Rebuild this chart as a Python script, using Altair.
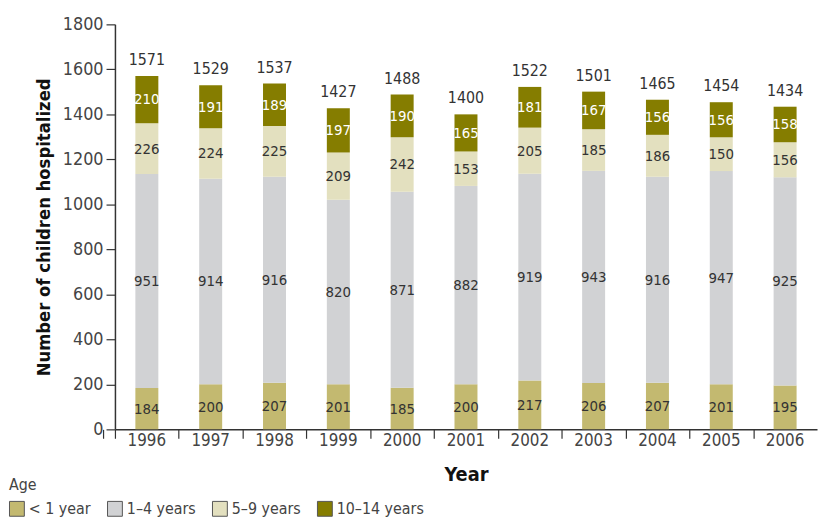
import altair as alt
import pandas as pd

years = ["1996", "1997", "1998", "1999", "2000", "2001", "2002", "2003", "2004", "2005", "2006"]
ages = ["< 1 year", "1–4 years", "5–9 years", "10–14 years"]
lt1 = [184, 200, 207, 201, 185, 200, 217, 206, 207, 201, 195]
y1_4 = [951, 914, 916, 820, 871, 882, 919, 943, 916, 947, 925]
y5_9 = [226, 224, 225, 209, 242, 153, 205, 185, 186, 150, 156]
y10_14 = [210, 191, 189, 197, 190, 165, 181, 167, 156, 156, 158]
totals = [1571, 1529, 1537, 1427, 1488, 1400, 1522, 1501, 1465, 1454, 1434]
colors = ["#c3b970", "#d1d2d4", "#e3e0bf", "#857d00"]

series = [lt1, y1_4, y5_9, y10_14]
rows = []
for ai, (age, vals) in enumerate(zip(ages, series)):
    for yr, v in zip(years, vals):
        rows.append({"year": yr, "age": age, "order": ai, "value": v})
df = pd.DataFrame(rows)
tot_df = pd.DataFrame({"year": years, "total": totals})

FONT = "DejaVu Sans Condensed, Roboto, sans-serif"
W = 709
STEP = W / len(years)
xscale = alt.Scale(paddingInner=0.64, paddingOuter=0.32)

x_labels = alt.X("year:N", title="Year", sort=years, scale=xscale,
                 axis=alt.Axis(orient="bottom", labelAngle=0, ticks=False,
                               labelFontSize=17, labelColor="#444", labelPadding=3,
                               titleFontSize=20, titleFontWeight="bold", titleColor="#111",
                               titlePadding=17, domainColor="#333", domainWidth=1.5,
                               labelFont=FONT, titleFont=FONT))
x_ticks = alt.X("year:N", title=None, sort=years, scale=xscale,
                axis=alt.Axis(orient="bottom", labels=False, domain=False,
                              tickOffset=-STEP / 2, tickExtra=True, tickSize=9,
                              tickColor="#333", tickWidth=1.2))
yscale = alt.Scale(domain=[0, 1800])

base = alt.Chart(df).transform_stack(
    stack="value", groupby=["year"], as_=["y0", "y1"],
    sort=[alt.SortField("order", "ascending")]
).transform_calculate(mid="(datum.y0 + datum.y1) / 2")

bars = base.mark_bar().encode(
    x=x_labels,
    y=alt.Y("y0:Q", scale=yscale, title="Number of children hospitalized",
            axis=alt.Axis(values=list(range(0, 1801, 200)), format="d", tickSize=9, grid=False,
                          labelFontSize=18, labelColor="#444", labelPadding=3,
                          titleFontSize=18.5, titleFontWeight="bold", titleColor="#111",
                          titlePadding=9, domainColor="#333", domainWidth=1.5,
                          tickColor="#333", tickWidth=1.2, labelFont=FONT, titleFont=FONT)),
    y2="y1:Q",
    color=alt.Color("age:N", sort=ages, scale=alt.Scale(domain=ages, range=colors),
                    legend=alt.Legend(title="Age", orient="none", legendX=-107, legendY=457,
                                      direction="horizontal", columns=4, symbolType="square",
                                      symbolSize=225, symbolStrokeColor="#555",
                                      symbolStrokeWidth=1, labelFontSize=16, labelColor="#444",
                                      titleFontSize=16, titleFontWeight="normal",
                                      titleColor="#444", columnPadding=14, titlePadding=8,
                                      labelFont=FONT, titleFont=FONT)),
    order=alt.Order("order:Q"),
)

labels = base.mark_text(fontSize=15, font=FONT, baseline="middle").encode(
    x=alt.X("year:N", sort=years, scale=xscale, axis=None),
    y=alt.Y("mid:Q", scale=yscale),
    text="value:Q",
    color=alt.condition("datum.order == 3", alt.value("white"), alt.value("#333")),
)

tot = alt.Chart(tot_df).mark_text(fontSize=16, font=FONT, baseline="bottom", dy=-8,
                                  color="#333").encode(
    x=x_ticks,
    y=alt.Y("total:Q", scale=yscale),
    text="total:Q",
)

chart = alt.layer(bars, labels, tot).resolve_axis(x="independent").properties(
    width=W, height=409,
    autosize=alt.AutoSizeParams(type="none"),
    padding={"left": 108, "top": 14, "right": 1, "bottom": 88},
).configure_view(stroke=None)

chart.save("out.html", embed_options={"renderer": "svg", "actions": False})
